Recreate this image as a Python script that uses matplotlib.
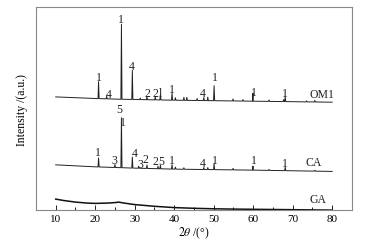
import numpy as np
import matplotlib
matplotlib.use("Agg")
import matplotlib.pyplot as plt
from matplotlib.ticker import MultipleLocator

plt.rcParams['font.family'] = ['Liberation Serif', 'DejaVu Serif']
plt.rcParams['mathtext.fontset'] = 'stix'

# baselines (2theta, intensity a.u.)
om1_base_x = [10, 15, 20, 26, 40, 60, 80]
om1_base_y = [113.3, 112.5, 111.7, 111.0, 110.0, 109.0, 108.0]
ca_base_x = [10, 20, 30, 40, 60, 80]
ca_base_y = [45.3, 43.3, 42.0, 41.0, 40.0, 38.7]
ga_x = [10, 12, 15, 18, 20, 23, 25, 26, 27, 30, 35, 40, 45, 50, 55, 60, 65, 70, 75, 80]
ga_y = [11.0, 9.6, 8.0, 7.0, 6.7, 7.0, 7.5, 8.0, 7.2, 5.5, 3.8, 2.5, 1.8, 1.3, 1.0, 0.8, 0.6, 0.4, 0.2, 0.0]

# peaks: position and height above baseline
om1_peak_x = [20.85, 22.9, 26.64, 29.4, 31.4, 33.1, 35.2, 36.5, 39.45, 40.3,
              42.45, 43.2, 45.8, 47.5, 48.5, 50.1, 54.9, 57.4, 59.95, 64.0,
              67.7, 68.1, 73.5, 75.6]
om1_peak_h = [17, 2.5, 75, 29, 1.5, 3, 3, 5, 7, 2.5,
              3, 3, 2, 3, 3.5, 15, 2, 1.5, 8, 1.5,
              2, 5, 1, 1.5]
ca_peak_x = [20.85, 25.0, 26.64, 29.4, 31.0, 33.1, 35.9, 36.5, 39.45, 40.3,
             42.45, 47.5, 48.5, 50.1, 54.9, 59.95, 64.0, 68.1, 75.6]
ca_peak_h = [9, 3, 50, 11, 2, 3.5, 2.5, 3.5, 4.5, 2,
             1.5, 2, 2, 6, 1.5, 4, 1, 3.5, 1]

# phase labels (text, 2theta, intensity)
om1_labels = [("1", 20.9, 133), ("4", 23.4, 116), ("1", 26.6, 191), ("4", 29.3, 144),
              ("2", 33.1, 117), ("2", 35.3, 117), ("l", 36.6, 117), ("1", 39.3, 121),
              ("4", 47.1, 117), ("1", 50.3, 133), ("1", 60.2, 118), ("1", 68.0, 117)]
ca_labels = [("5", 26.2, 101), ("1", 26.9, 88), ("1", 20.7, 58), ("3", 24.9, 50),
             ("4", 29.9, 57), ("3", 31.4, 46), ("2", 32.6, 51), ("2", 35.3, 49),
             ("5", 36.7, 49), ("1", 39.3, 50), ("4", 47.1, 47), ("1", 50.3, 50),
             ("1", 60.2, 50), ("1", 68.0, 47)]
series_names = [("OM1", 77.4, 116), ("CA", 75.3, 48), ("GA", 76.5, 11)]


def with_peaks(bx, by, px, ph, w=0.14):
    xs = list(bx)
    ys = list(by)
    for p, h in zip(px, ph):
        b = np.interp(p, bx, by)
        xs += [p - w, p, p + w]
        ys += [b, b + h, b]
    order = np.argsort(xs)
    return np.array(xs)[order], np.array(ys)[order]


fig = plt.figure(figsize=(3.67, 2.51), dpi=100)
ax = fig.add_axes([0.098, 0.159, 0.861, 0.808])

x1, y1 = with_peaks(om1_base_x, om1_base_y, om1_peak_x, om1_peak_h)
x2, y2 = with_peaks(ca_base_x, ca_base_y, ca_peak_x, ca_peak_h)
ax.plot(x1, y1, color='#222222', lw=0.7)
ax.plot(x2, y2, color='#222222', lw=0.7)
ax.plot(ga_x, ga_y, color='#111111', lw=1.1)

for t, x, y in om1_labels + ca_labels:
    ax.text(x, y, t, fontsize=8.5, ha='center', va='center', color='#222222')
for t, x, y in series_names:
    ax.text(x, y, t, fontsize=8.5, ha='center', va='center', color='#222222')

ax.set_xlim(5, 85)
ax.set_ylim(0, 203)
ax.set_yticks([])
ax.xaxis.set_major_locator(MultipleLocator(10))
ax.xaxis.set_minor_locator(MultipleLocator(5))
ax.set_xticks(range(10, 81, 10))
ax.tick_params(axis='x', which='major', direction='in', length=3.5, width=0.6, labelsize=8, pad=3)
ax.tick_params(axis='x', which='minor', direction='in', length=2, width=0.6)
for s in ax.spines.values():
    s.set_color('#888888')
    s.set_linewidth(0.8)

ax.set_xlabel(r"$\mathit{2\theta}$ /(°)", fontsize=8.5, labelpad=1)
ax.set_ylabel("Intensity /(a.u.)", fontsize=8.5, labelpad=6)

fig.savefig("out.png", dpi=100)
